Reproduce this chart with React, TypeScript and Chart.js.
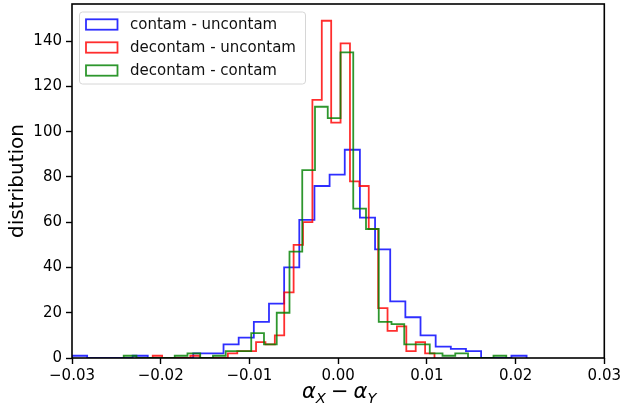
import React, { useEffect, useRef } from 'react';
import { Chart, registerables } from 'chart.js';

Chart.register(...registerables);

// ---- data ----
const seriesLabels = ['contam - uncontam', 'decontam - uncontam', 'decontam - contam'];
const seriesColors = ['rgba(0,0,255,0.82)', 'rgba(255,0,0,0.82)', 'rgba(0,128,0,0.82)'];

// histogram ranges (first and last bin edge), 30 equal bins each
const blueRange = [-0.03, 0.02124];
const redRange = [-0.0209, 0.01086];
const greenRange = [-0.02417, 0.01895];

const blueCounts = [1, 0, 0, 0, 1, 0, 0, 0, 2, 2, 6, 9, 16, 24, 40, 61, 76, 81, 92, 62, 48, 25, 18, 10, 5, 4, 3, 0, 0, 1];
const redCounts = [1, 0, 0, 0, 1, 0, 0, 0, 2, 3, 3, 7, 6, 10, 29, 50, 60, 114, 149, 104, 139, 78, 76, 57, 22, 12, 14, 3, 7, 2];
const greenCounts = [1, 0, 0, 0, 1, 2, 0, 1, 3, 3, 11, 6, 20, 47, 83, 111, 106, 135, 66, 57, 16, 15, 6, 6, 2, 1, 2, 0, 0, 1];

const xTicks = [-0.03, -0.02, -0.01, 0, 0.01, 0.02, 0.03];
const yTicks = [0, 20, 40, 60, 80, 100, 120, 140];
const xLimits = [-0.03, 0.03];
const yLimits = [0, 156.4];

const FONT = 'DejaVu Sans';

function stepPoints(range: number[], counts: number[]) {
  const n = counts.length;
  const w = (range[1] - range[0]) / n;
  const pts: { x: number; y: number }[] = [{ x: range[0], y: 0 }];
  counts.forEach((c, i) => pts.push({ x: range[0] + i * w, y: c }));
  pts.push({ x: range[1], y: 0 });
  return pts;
}

const framePlugin = {
  id: 'frame',
  afterDraw(chart: any) {
    const { ctx, chartArea: a } = chart;
    ctx.save();
    ctx.strokeStyle = '#000';
    ctx.lineWidth = 1.6;
    ctx.strokeRect(a.left, a.top, a.right - a.left, a.bottom - a.top);
    ctx.restore();
  },
};

const legendPlugin = {
  id: 'mplLegend',
  afterDraw(chart: any) {
    const { ctx, chartArea: a } = chart;
    const x0 = a.left + 7.5;
    const y0 = a.top + 8;
    const w = 226;
    const h = 72;
    const r = 3;
    ctx.save();
    ctx.beginPath();
    ctx.moveTo(x0 + r, y0);
    ctx.lineTo(x0 + w - r, y0);
    ctx.quadraticCurveTo(x0 + w, y0, x0 + w, y0 + r);
    ctx.lineTo(x0 + w, y0 + h - r);
    ctx.quadraticCurveTo(x0 + w, y0 + h, x0 + w - r, y0 + h);
    ctx.lineTo(x0 + r, y0 + h);
    ctx.quadraticCurveTo(x0, y0 + h, x0, y0 + h - r);
    ctx.lineTo(x0, y0 + r);
    ctx.quadraticCurveTo(x0, y0, x0 + r, y0);
    ctx.closePath();
    ctx.fillStyle = 'rgba(255,255,255,0.8)';
    ctx.fill();
    ctx.strokeStyle = '#d6d6d6';
    ctx.lineWidth = 1;
    ctx.stroke();
    chart.data.datasets.forEach((ds: any, i: number) => {
      const cy = y0 + 12.5 + i * 23;
      ctx.strokeStyle = ds.borderColor;
      ctx.lineWidth = 1.8;
      ctx.strokeRect(x0 + 6.5, cy - 5.2, 31.5, 10.4);
      ctx.fillStyle = '#111';
      ctx.font = `15px "${FONT}"`;
      ctx.textBaseline = 'middle';
      ctx.textAlign = 'left';
      ctx.fillText(ds.label, x0 + 50.5, cy + 0.5);
    });
    ctx.restore();
  },
};

const xTitlePlugin = {
  id: 'xTitle',
  afterDraw(chart: any) {
    const { ctx, chartArea: a } = chart;
    const size = 21;
    const sub = size * 0.7;
    const parts = [
      { t: 'α', f: `italic ${size}px "${FONT}"`, dy: 0, gap: 0 },
      { t: 'X', f: `italic ${sub}px "${FONT}"`, dy: 4.5, gap: 0 },
      { t: '−', f: `${size}px "${FONT}"`, dy: 0, gap: size * 0.24 },
      { t: 'α', f: `italic ${size}px "${FONT}"`, dy: 0, gap: size * 0.24 },
      { t: 'Y', f: `italic ${sub}px "${FONT}"`, dy: 4.5, gap: 0 },
    ];
    ctx.save();
    let total = 0;
    const widths = parts.map((p) => {
      ctx.font = p.f;
      const wd = ctx.measureText(p.t).width;
      total += wd + p.gap;
      return wd;
    });
    let x = (a.left + a.right) / 2 - total / 2 + 1;
    const baseY = 398;
    ctx.fillStyle = '#000';
    ctx.textBaseline = 'alphabetic';
    ctx.textAlign = 'left';
    parts.forEach((p, i) => {
      x += p.gap;
      ctx.font = p.f;
      ctx.fillText(p.t, x, baseY + p.dy);
      x += widths[i];
    });
    ctx.restore();
  },
};

export default function App() {
  const ref = useRef<HTMLCanvasElement>(null);
  useEffect(() => {
    document.body.style.margin = '0';
    const canvas = ref.current;
    if (!canvas) return;
    const fmt = (v: number) => {
      if (Math.abs(v) < 1e-12) return '0.00';
      return (v < 0 ? '−' : '') + Math.abs(v).toFixed(2);
    };
    const chart = new Chart(canvas, {
      type: 'line',
      data: {
        datasets: [
          { label: seriesLabels[0], data: stepPoints(blueRange, blueCounts), borderColor: seriesColors[0], order: 2 },
          { label: seriesLabels[1], data: stepPoints(redRange, redCounts), borderColor: seriesColors[1], order: 1 },
          { label: seriesLabels[2], data: stepPoints(greenRange, greenCounts), borderColor: seriesColors[2], order: 0 },
        ].map((d) => ({
          ...d,
          stepped: true as any,
          borderWidth: 1.8,
          pointRadius: 0,
          fill: false,
          tension: 0,
        })),
      },
      options: {
        animation: false,
        responsive: true,
        maintainAspectRatio: false,
        layout: { padding: { left: 0, right: 19, top: 4, bottom: 0 } },
        plugins: { legend: { display: false }, tooltip: { enabled: false } },
        scales: {
          x: {
            type: 'linear',
            min: xLimits[0],
            max: xLimits[1],
            afterBuildTicks: (s: any) => {
              s.ticks = xTicks.map((v) => ({ value: v }));
            },
            afterFit: (s: any) => {
              s.height = 56;
            },
            ticks: {
              callback: (v: any) => fmt(Number(v)),
              color: '#000',
              font: { family: FONT, size: 15 },
              padding: 3,
              maxRotation: 0,
              autoSkip: false,
            },
            grid: { display: true, drawOnChartArea: false, drawTicks: true, tickLength: 6, tickColor: '#000', tickWidth: 1.4, color: '#000' },
            border: { display: false },
          },
          y: {
            type: 'linear',
            min: yLimits[0],
            max: yLimits[1],
            afterBuildTicks: (s: any) => {
              s.ticks = yTicks.map((v) => ({ value: v }));
            },
            afterFit: (s: any) => {
              s.width = 72;
              s.paddingTop = 0;
              s.paddingBottom = 0;
            },
            ticks: {
              color: '#000',
              font: { family: FONT, size: 15 },
              padding: 4,
              autoSkip: false,
            },
            grid: { display: true, drawOnChartArea: false, drawTicks: true, tickLength: 6, tickColor: '#000', tickWidth: 1.4, color: '#000' },
            border: { display: false },
            title: {
              display: true,
              text: 'distribution',
              color: '#000',
              font: { family: FONT, size: 20 },
              padding: { top: 6, bottom: 0 },
            },
          },
        },
      },
      plugins: [framePlugin, legendPlugin, xTitlePlugin],
    } as any);
    return () => chart.destroy();
  }, []);
  return (
    <div style={{ position: 'absolute', left: 0, top: 0, width: 624, height: 414 }}>
      <canvas ref={ref} />
    </div>
  );
}
